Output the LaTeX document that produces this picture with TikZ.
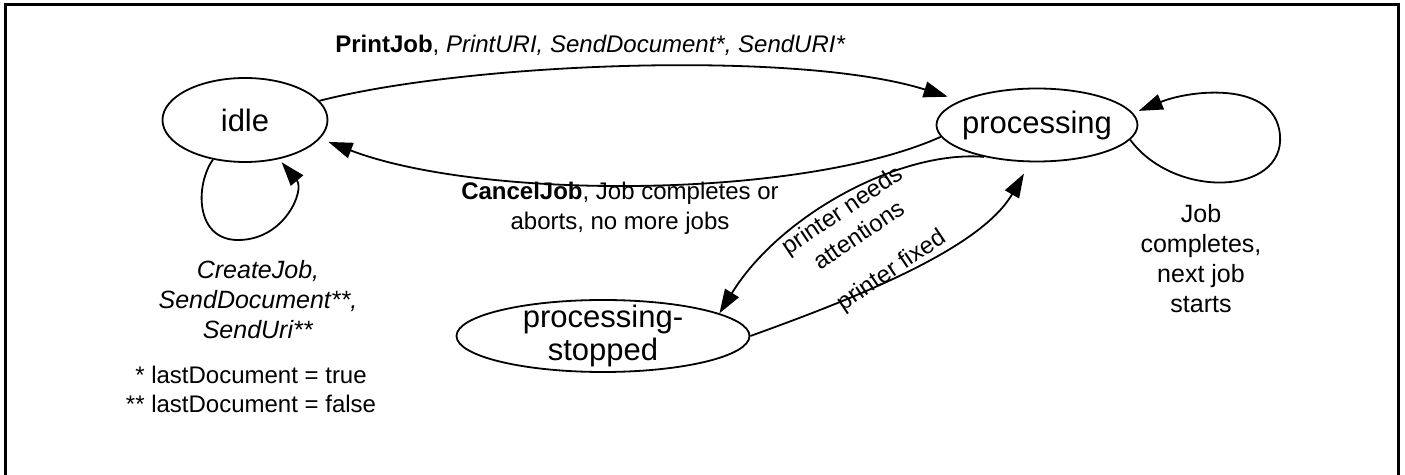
\documentclass[tikz,border=0pt]{standalone}
\usepackage{fontspec}
\setmainfont{Liberation Sans}
\usetikzlibrary{arrows.meta,shapes.geometric}
\newcommand{\stfont}{\fontsize{15.5}{16.5}\selectfont}
\newcommand{\lbfont}{\fontsize{12.5}{15}\selectfont}
\newcommand{\edfont}{\fontsize{12}{15}\selectfont}
\newcommand{\ntfont}{\fontsize{12}{14.5}\selectfont}
\begin{document}
\begin{tikzpicture}[x=0.5pt,y=-0.5pt,
  state/.style={ellipse, draw, line width=0.9pt, inner sep=0pt},
  stext/.style={font=\stfont, inner sep=0pt, align=center},
  lbl/.style={font=\lbfont, inner sep=0pt, align=center},
  elbl/.style={font=\edfont, inner sep=0pt, align=center},
  note/.style={font=\ntfont, inner sep=0pt, align=center},
  conn/.style={line width=0.9pt, -{Triangle[length=12pt,width=8pt]}}]
\useasboundingbox (0,0) rectangle (1405,475);
\draw[line width=1.5pt] (5.5,490) -- (5.5,5) -- (1398.5,5) -- (1398.5,490);

\node[state, minimum width=82.5pt, minimum height=42pt] (idle) at (245,120) {};
\node[stext] (idleT) at (idle.center) {idle};
\node[state, minimum width=100.5pt, minimum height=36.5pt] (proc) at (1037,125) {};
\node[stext] (procT) at (proc.center) {processing};
\node[state, minimum width=146.5pt, minimum height=36pt] (stop) at (603,336) {};
\node[stext] (stopT) at (stop.center) {processing-\\stopped};

\draw[conn, shorten >=6.5pt] (idle) .. controls (470,62) and (800,50) .. (proc);
\draw[conn, shorten >=4.5pt] (proc.187) .. controls (800,200) and (480,200) .. (idle.-14);
\draw[conn, shorten >=2pt] (idle.231) .. controls (195,185) and (195,240) .. (238,240)
   .. controls (285,240) and (305,190) .. (idle.311);
\draw[conn, shorten >=3pt] (proc.-9) .. controls (1175,200) and (1285,195) .. (1280,135)
   .. controls (1275,80) and (1190,90) .. (proc.7);
\draw[conn] (proc.211) .. controls (900,150) and (780,215) .. (stop.11);
\draw[conn, shorten >=6.5pt] (stop.east) .. controls (850,300) and (980,250) .. (proc.260);

\node[elbl, anchor=base west] (lPrint) at (335,53) {\textbf{PrintJob}, \textit{PrintURI, SendDocument*, SendURI*}};
\node[elbl] (lCancel) at (620,208) {\textbf{CancelJob}, Job completes or\\aborts, no more jobs};
\node[lbl] (lCreate) at (258,300) {\textit{CreateJob,}\\\textit{SendDocument**,}\\\textit{SendUri**}};
\node[note] (lNote) at (251,389) {* lastDocument = true\\** lastDocument = false};
\node[lbl] (lJob) at (1201,259) {Job\\completes,\\next job\\starts};
\node[elbl, rotate=34] (lNeed) at (850,222) {printer needs\\attentions};
\node[elbl, rotate=34] (lFix) at (892,271) {printer fixed};
\end{tikzpicture}
\end{document}
